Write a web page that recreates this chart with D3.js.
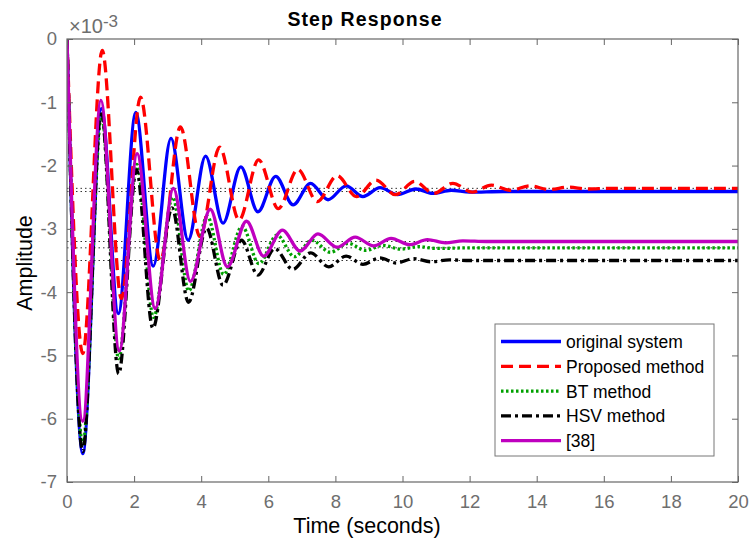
<!DOCTYPE html>
<html>
<head>
<meta charset="utf-8">
<script src="https://cdn.jsdelivr.net/npm/d3@7"></script>
<style>
  body { margin: 0; background: #fff; }
  text { font-family: "Liberation Sans", Arial, Helvetica, sans-serif; }
</style>
</head>
<body>
<svg id="chart" width="750" height="545"></svg>
<script>
// step response values, amplitude in units of 1e-3
// each series is listed by its turning points [time, amplitude]
const original = [[0,0],[0.47,-6.55],[1.03,-1.1],[1.53,-4.34],[2.05,-1.16],[2.57,-3.59],[3.1,-1.57],
  [3.61,-3.18],[4.13,-1.85],[4.65,-2.91],[5.18,-2.02],[5.69,-2.73],[6.22,-2.17],[6.74,-2.62],
  [7.26,-2.28],[7.78,-2.54],[8.32,-2.32],[8.82,-2.49],[9.33,-2.35],[9.85,-2.46],[10.4,-2.37],
  [10.9,-2.44],[11.45,-2.39],[12.0,-2.42],[13,-2.41],[20,-2.41]];
const proposed = [[0,0],[0.47,-4.97],[1.05,-0.18],[1.62,-4.1],[2.19,-0.92],[2.78,-3.5],[3.38,-1.39],
  [3.96,-3.12],[4.55,-1.71],[5.13,-2.86],[5.71,-1.91],[6.3,-2.68],[6.88,-2.06],[7.46,-2.57],
  [8.05,-2.16],[8.63,-2.49],[9.21,-2.23],[9.79,-2.46],[10.36,-2.25],[10.93,-2.44],[11.5,-2.28],
  [12.08,-2.42],[12.65,-2.31],[13.22,-2.39],[13.8,-2.32],[14.37,-2.38],[14.95,-2.34],[15.5,-2.37],
  [16.2,-2.36],[20,-2.36]];
const bt = [[0,0],[0.47,-6.4],[1.03,-1.2],[1.54,-5.05],[2.08,-1.98],[2.58,-4.4],[3.15,-2.5],
  [3.63,-3.98],[4.18,-2.8],[4.67,-3.72],[5.22,-2.96],[5.72,-3.55],[6.26,-3.1],[6.78,-3.44],
  [7.3,-3.18],[7.85,-3.37],[8.38,-3.23],[8.9,-3.34],[9.42,-3.26],[9.95,-3.32],[10.48,-3.28],
  [11.0,-3.31],[12,-3.3],[20,-3.3]];
const hsv = [[0,0],[0.47,-6.52],[1.02,-1.14],[1.54,-5.29],[2.07,-2.07],[2.56,-4.57],[3.13,-2.67],
  [3.62,-4.16],[4.16,-2.99],[4.65,-3.89],[5.2,-3.18],[5.69,-3.73],[6.19,-3.31],[6.73,-3.64],
  [7.26,-3.38],[7.8,-3.6],[8.32,-3.43],[8.82,-3.56],[9.32,-3.46],[9.82,-3.54],[10.33,-3.47],
  [10.85,-3.52],[11.4,-3.49],[12,-3.5],[20,-3.5]];
const ref38 = [[0,0],[0.47,-6.04],[1.01,-0.97],[1.56,-4.93],[2.09,-1.81],[2.63,-4.26],[3.17,-2.36],
  [3.68,-3.83],[4.27,-2.69],[4.78,-3.6],[5.35,-2.88],[5.86,-3.43],[6.42,-3.02],[6.95,-3.35],
  [7.48,-3.08],[8.05,-3.29],[8.59,-3.13],[9.14,-3.27],[9.66,-3.15],[10.21,-3.25],[10.74,-3.17],
  [11.28,-3.22],[11.8,-3.19],[12.5,-3.2],[20,-3.2]];

const steadyStates = [-2.36, -2.41, -3.20, -3.30, -3.50];
const xTicks = [0, 2, 4, 6, 8, 10, 12, 14, 16, 18, 20];
const yTicks = [0, -1, -2, -3, -4, -5, -6, -7];
const seriesNames = ["original system", "Proposed method", "BT method", "HSV method", "[38]"];

const series = [
  { name: seriesNames[0], values: original, color: "#0000ff", dash: null, w: 3.3 },
  { name: seriesNames[1], values: proposed, color: "#ff0000", dash: "12,6", w: 3.3 },
  { name: seriesNames[2], values: bt, color: "#00a000", dash: "2.5,2.5", w: 3.3 },
  { name: seriesNames[3], values: hsv, color: "#000000", dash: "10,4,3,4", w: 3.3 },
  { name: seriesNames[4], values: ref38, color: "#bf00bf", dash: null, w: 3.3 }
];

const plotLeft = 67, plotRight = 738, plotTop = 39, plotBottom = 482;
const axisColor = "#666666";

const svg = d3.select("#chart");

const x = d3.scaleLinear().domain([0, 20]).range([plotLeft, plotRight]);
const y = d3.scaleLinear().domain([-7, 0]).range([plotBottom, plotTop]);

// steady state dotted lines
svg.append("g").selectAll("line")
    .data(steadyStates)
    .enter()
    .append("line")
    .attr("x1", plotLeft).attr("x2", plotRight)
    .attr("y1", d => y(d)).attr("y2", d => y(d))
    .attr("stroke", "#333")
    .attr("stroke-width", 1)
    .attr("stroke-dasharray", "1.5,3");

const line = d3.line()
    .x(d => x(d[0]))
    .y(d => y(d[1]))
    .curve(d3.curveMonotoneX);

svg.append("defs").append("clipPath").attr("id", "clip")
    .append("rect")
    .attr("x", plotLeft).attr("y", plotTop - 3)
    .attr("width", plotRight - plotLeft).attr("height", plotBottom - plotTop + 3);

svg.append("g")
    .attr("clip-path", "url(#clip)")
    .selectAll("path")
    .data(series)
    .enter()
    .append("path")
    .attr("d", d => line(d.values))
    .attr("fill", "none")
    .attr("stroke", d => d.color)
    .attr("stroke-width", d => d.w)
    .attr("stroke-dasharray", d => d.dash)
    .attr("stroke-linejoin", "round");

// axes: bottom, left, plus box with inward ticks
const tickLen = 6;
const xAxis = d3.axisBottom(x).tickValues(xTicks).tickSize(-tickLen).tickPadding(13)
    .tickFormat(d => String(d));
const yAxis = d3.axisLeft(y).tickValues(yTicks).tickSize(-tickLen).tickPadding(10)
    .tickFormat(d => String(d));
const xTop = d3.axisTop(x).tickValues(xTicks).tickSize(-tickLen).tickFormat("");
const yRight = d3.axisRight(y).tickValues(yTicks).tickSize(-tickLen).tickFormat("");

function styleAxis(g) {
    g.selectAll("path, line").attr("stroke", axisColor).attr("stroke-width", 1);
    g.selectAll("text")
        .attr("fill", "#6e6e6e")
        .style("font-size", "18.5px")
        .style("font-family", "'Liberation Sans', Arial, sans-serif");
    g.select(".domain").remove();
}

svg.append("g").attr("transform", `translate(0,${plotBottom})`).call(xAxis).call(styleAxis);
svg.append("g").attr("transform", `translate(${plotLeft},0)`).call(yAxis).call(styleAxis);
svg.append("g").attr("transform", `translate(0,${plotTop})`).call(xTop).call(styleAxis);
svg.append("g").attr("transform", `translate(${plotRight},0)`).call(yRight).call(styleAxis);

svg.append("rect")
    .attr("x", plotLeft).attr("y", plotTop)
    .attr("width", plotRight - plotLeft).attr("height", plotBottom - plotTop)
    .attr("fill", "none")
    .attr("stroke", axisColor)
    .attr("stroke-width", 1.2);

// exponent label
const expo = svg.append("text")
    .attr("x", 69).attr("y", 33)
    .attr("fill", "#6e6e6e")
    .style("font-size", "20px");
expo.append("tspan").text("\u00d710");
expo.append("tspan").attr("dy", -6).style("font-size", "17px").text("-3");

// title and labels
svg.append("text")
    .attr("x", 365).attr("y", 26)
    .attr("text-anchor", "middle")
    .style("font-size", "19.5px")
    .style("font-weight", "bold")
    .style("letter-spacing", "1.1px")
    .text("Step Response");

svg.append("text")
    .attr("x", 367).attr("y", 533)
    .attr("text-anchor", "middle")
    .style("font-size", "21.5px")
    .text("Time (seconds)");

svg.append("text")
    .attr("transform", "translate(32,263) rotate(-90)")
    .attr("text-anchor", "middle")
    .style("font-size", "21.5px")
    .text("Amplitude");

// legend
const legend = svg.append("g");
legend.append("rect")
    .attr("x", 495).attr("y", 324)
    .attr("width", 219).attr("height", 132)
    .attr("fill", "#fff")
    .attr("stroke", "#777")
    .attr("stroke-width", 1);

const items = legend.selectAll("g.item")
    .data(series)
    .enter()
    .append("g")
    .attr("class", "item")
    .attr("transform", (d, i) => `translate(0,${341.5 + i * 24.8})`);

items.append("line")
    .attr("x1", 501).attr("x2", 561)
    .attr("stroke", d => d.color)
    .attr("stroke-width", d => d.w)
    .attr("stroke-dasharray", d => d.dash);

items.append("text")
    .attr("x", 566).attr("y", 6.5)
    .style("font-size", "17.5px")
    .attr("fill", "#000")
    .text(d => d.name);
</script>
</body>
</html>
